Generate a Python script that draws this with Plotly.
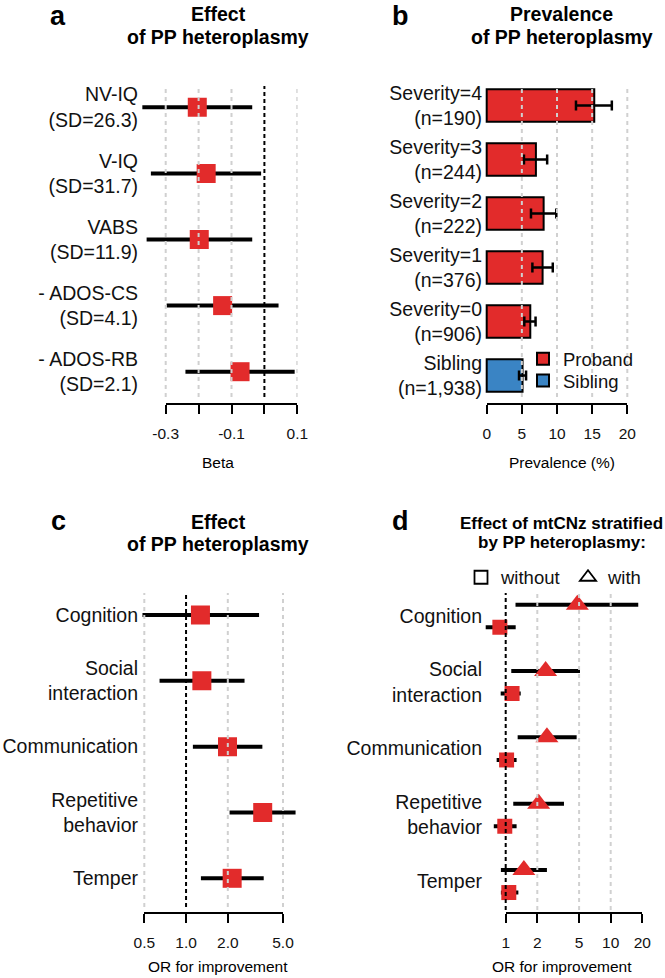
import math
import plotly.graph_objects as go

W, H = 665, 978

# ---------------- data ----------------
a_labels = ["NV-IQ<br>(SD=26.3)", "V-IQ<br>(SD=31.7)", "VABS<br>(SD=11.9)",
            "- ADOS-CS<br>(SD=4.1)", "- ADOS-RB<br>(SD=2.1)"]
a_beta = [-0.204, -0.177, -0.198, -0.127, -0.074]
a_lo = [-0.371, -0.345, -0.358, -0.297, -0.240]
a_hi = [-0.037, -0.010, -0.037, 0.043, 0.092]
a_ticks = [-0.3, -0.2, -0.1, 0.0, 0.1]
a_ticktext = ["-0.3", "", "-0.1", "", "0.1"]

b_labels = ["Severity=4<br>(n=190)", "Severity=3<br>(n=244)", "Severity=2<br>(n=222)",
            "Severity=1<br>(n=376)", "Severity=0<br>(n=906)", "Sibling<br>(n=1,938)"]
b_prev = [15.3, 7.0, 8.1, 7.95, 6.2, 5.1]
b_lo = [12.7, 5.3, 6.3, 6.5, 5.35, 4.6]
b_hi = [17.8, 8.6, 9.9, 9.4, 6.95, 5.6]
b_ticks = [0, 5, 10, 15, 20]

c_labels = ["Cognition", "Social<br>interaction", "Communication",
            "Repetitive<br>behavior", "Temper"]
c_or = [1.27, 1.30, 1.99, 3.57, 2.15]
c_lo = [0.485, 0.644, 1.12, 2.06, 1.28]
c_hi = [3.36, 2.64, 3.55, 6.16, 3.63]
c_ticks = [0.5, 1.0, 2.0, 5.0]
c_ticktext = ["0.5", "1.0", "2.0", "5.0"]

d_labels = c_labels
d_with = [4.81, 2.40, 2.47, 2.06, 1.49]
d_with_lo = [1.24, 1.13, 1.30, 1.18, 0.90]
d_with_hi = [18.3, 5.10, 4.74, 3.59, 2.47]
d_wo = [0.88, 1.15, 1.02, 0.98, 1.07]
d_wo_lo = [0.645, 0.896, 0.82, 0.77, 0.90]
d_wo_hi = [1.245, 1.39, 1.27, 1.27, 1.32]
d_ticks = [1, 2, 5, 10, 20]
d_ticktext = ["1", "2", "5", "10", "20"]

# ---------------- style ----------------
RED = "#E22B2B"
BLUE = "#3A84C4"
GRID = "#D0D0D0"
TXT = "#111111"
FONT = "Liberation Sans, Arial, Helvetica, sans-serif"
L = math.log10


def xd(p0, p1):
    return [p0 / W, p1 / W]


def yd(top, bot):
    return [1 - bot / H, 1 - top / H]


def calib(pa, va, pb, vb, p0, p1):
    s = (pb - pa) / (vb - va)
    return [va + (p0 - pa) / s, va + (p1 - pa) / s]


def py(p):
    return 1 - p / H


rows5 = [5, 4, 3, 2, 1]
rows6 = [6, 5, 4, 3, 2, 1]

fig = go.Figure()


def err(est, lo, hi):
    return dict(type="data", symmetric=False,
                array=[h - e for e, h in zip(est, hi)],
                arrayminus=[e - l for e, l in zip(est, lo)],
                width=0, thickness=4, color="black")


# panel a
fig.add_trace(go.Scatter(x=a_beta, y=rows5, xaxis="x", yaxis="y", mode="markers",
                         marker=dict(symbol="square", size=19, color=RED),
                         error_x=err(a_beta, a_lo, a_hi), showlegend=False, hoverinfo="skip"))
# panel b
eb = dict(type="data", symmetric=False, color="black", thickness=2.5, width=5,
          array=[h - e for e, h in zip(b_prev, b_hi)],
          arrayminus=[e - l for e, l in zip(b_prev, b_lo)])
fig.add_trace(go.Bar(x=b_prev[:5], y=rows6[:5], orientation="h", width=0.6, name="Proband",
                     marker=dict(color=RED, line=dict(color="black", width=2)),
                     error_x=dict(eb, array=eb["array"][:5], arrayminus=eb["arrayminus"][:5]),
                     xaxis="x2", yaxis="y2", legend="legend", hoverinfo="skip"))
fig.add_trace(go.Bar(x=b_prev[5:], y=rows6[5:], orientation="h", width=0.6, name="Sibling",
                     marker=dict(color=BLUE, line=dict(color="black", width=2)),
                     error_x=dict(eb, array=eb["array"][5:], arrayminus=eb["arrayminus"][5:]),
                     xaxis="x2", yaxis="y2", legend="legend3", hoverinfo="skip"))
# panel c
fig.add_trace(go.Scatter(x=c_or, y=rows5, xaxis="x3", yaxis="y3", mode="markers",
                         marker=dict(symbol="square", size=19, color=RED),
                         error_x=err(c_or, c_lo, c_hi), showlegend=False, hoverinfo="skip"))
# panel d
OFF = 0.17
fig.add_trace(go.Scatter(x=d_with, y=[r + OFF for r in rows5], xaxis="x4", yaxis="y4",
                         mode="markers", marker=dict(symbol="triangle-up", size=20, color=RED),
                         error_x=err(d_with, d_with_lo, d_with_hi), showlegend=False,
                         hoverinfo="skip"))
fig.add_trace(go.Scatter(x=d_wo, y=[r - OFF for r in rows5], xaxis="x4", yaxis="y4",
                         mode="markers", marker=dict(symbol="square", size=15, color=RED),
                         error_x=err(d_wo, d_wo_lo, d_wo_hi), showlegend=False,
                         hoverinfo="skip"))
# legend entries for panel d (open symbols)
fig.add_trace(go.Scatter(x=[None], y=[None], xaxis="x4", yaxis="y4", mode="markers", name="without",
                         marker=dict(symbol="square-open", size=13, color="black",
                                     line=dict(width=1.8, color="black")),
                         legend="legend2"))
fig.add_trace(go.Scatter(x=[None], y=[None], xaxis="x4", yaxis="y4", mode="markers", name="with",
                         marker=dict(symbol="triangle-up-open", size=14, color="black",
                                     line=dict(width=1.8, color="black")),
                         legend="legend4"))

# invisible traces hosting the R-style display axes
for xa, ya, tv in [("x5", "y", a_ticks), ("x6", "y2", b_ticks), ("x7", "y3", c_ticks),
                   ("x8", "y4", d_ticks)]:
    fig.add_trace(go.Scatter(x=[tv[0], tv[-1]], y=[3, 3], xaxis=xa, yaxis=ya, mode="markers",
                             marker=dict(opacity=0), showlegend=False, hoverinfo="skip"))

# ---------------- axes ----------------
hidden_x = dict(visible=False, fixedrange=True, automargin=False)


def yax(dom_top, dom_bot, pa, va, pb, vb, anchor, tv, tt):
    return dict(domain=yd(dom_top, dom_bot), range=calib(pa, va, pb, vb, dom_bot, dom_top),
                anchor=anchor, tickvals=tv, ticktext=tt, showgrid=False, zeroline=False,
                showline=False, ticks="", tickfont=dict(size=19.5, color=TXT, family=FONT),
                fixedrange=True, automargin=False)


def disp(p0, p1, rng, pos, tv, tt, typ="linear"):
    return dict(domain=xd(p0, p1), range=rng, type=typ, anchor="free", position=py(pos),
                showline=True, linecolor="black", linewidth=2, ticks="outside", ticklen=9,
                tickwidth=2, tickcolor="black", tickvals=tv, ticktext=tt,
                tickfont=dict(size=15.5, color=TXT, family=FONT), showgrid=False,
                zeroline=False, ticklabelstandoff=6, fixedrange=True, automargin=False)


def leg(x, y, orient="v"):
    return dict(x=x / W, y=py(y), xanchor="left", yanchor="middle", orientation=orient,
                font=dict(size=18.5, color=TXT, family=FONT), bgcolor="rgba(0,0,0,0)",
                itemwidth=30, tracegroupgap=0)


layout = dict(
    width=W, height=H, margin=dict(l=0, r=0, t=0, b=0, pad=0, autoexpand=False), autosize=False,
    paper_bgcolor="white", plot_bgcolor="rgba(0,0,0,0)",
    font=dict(family=FONT, color=TXT),
    xaxis=dict(hidden_x, domain=xd(139, 297.6), range=calib(165.7, -0.3, 297.3, 0.1, 139, 297.6),
               anchor="y"),
    xaxis2=dict(hidden_x, domain=xd(483, 640.4), range=calib(486.7, 0, 627.3, 20, 483, 640.4),
                anchor="y2"),
    xaxis3=dict(hidden_x, type="log", domain=xd(139, 297.6),
                range=calib(144.3, L(0.5), 283, L(5), 139, 297.6), anchor="y3"),
    xaxis4=dict(hidden_x, type="log", domain=xd(483, 640.4),
                range=calib(505.7, 0, 642.3, L(20), 483, 640.4), anchor="y4"),
    yaxis=yax(86, 397, 107.3, 5, 371.7, 1, "x", rows5, a_labels),
    yaxis2=yax(86, 397, 105.5, 6, 375.5, 1, "x2", rows6, b_labels),
    yaxis3=yax(593, 907, 615, 5, 878.3, 1, "x3", rows5, c_labels),
    yaxis4=yax(593, 910, 616, 5, 881.3, 1, "x4", rows5, d_labels),
    xaxis5=disp(165.7, 297.3, [-0.3, 0.1], 404, a_ticks, a_ticktext),
    xaxis6=disp(486.7, 627.3, [0, 20], 404, b_ticks, [str(t) for t in b_ticks]),
    xaxis7=disp(144.3, 283, [L(0.5), L(5)], 913, c_ticks, c_ticktext, "log"),
    xaxis8=disp(505.7, 642.3, [0, L(20)], 913, d_ticks, d_ticktext, "log"),
    legend=leg(523, 359.3),
    legend3=leg(523, 381),
    legend2=leg(461, 577.7),
    legend4=leg(568, 577.7),
)

# ---------------- gridlines (drawn above the marks, as in the original) ----------------
shapes = []


def vline(xref, yref, x, color, dash, width):
    return dict(type="line", xref=xref, yref=yref + " domain", x0=x, x1=x, y0=0, y1=1,
                line=dict(color=color, width=width, dash=dash), layer="above")


for x in [-0.3, -0.2, -0.1, 0.1]:
    shapes.append(vline("x", "y", x, GRID, "4px,4px", 2))
shapes.append(vline("x", "y", 0.0, "black", "4px,3px", 2))
for x in [5, 10, 15, 20]:
    shapes.append(vline("x2", "y2", x, GRID, "4px,4px", 2))
for x in [0.5, 2, 5]:
    shapes.append(vline("x3", "y3", x, GRID, "4px,4px", 2))
shapes.append(vline("x3", "y3", 1, "black", "4px,3px", 2))
for x in [2, 5, 10]:
    shapes.append(vline("x4", "y4", x, GRID, "4px,4px", 2))
shapes.append(vline("x4", "y4", 1, "black", "4px,3px", 2))
layout["shapes"] = shapes

# ---------------- text ----------------
ann = []


def txt(text, x, y, size, xref="paper", bold=False, anchor="center"):
    ann.append(dict(text=f"<b>{text}</b>" if bold else text, x=x, y=y, xref=xref, yref="paper",
                    xanchor=anchor, yanchor="middle", showarrow=False,
                    font=dict(size=size, color="black", family=FONT)))


# panel letters
txt("a", 58 / W, py(15.8), 27, bold=True)
txt("b", 400.7 / W, py(15.8), 27, bold=True)
txt("c", 58.3 / W, py(520.5), 27, bold=True)
txt("d", 400.7 / W, py(520.5), 27, bold=True)
# panel titles
txt("Effect", 0.5, py(13.9), 19.5, "x domain", True)
txt("of PP heteroplasmy", 0.5, py(37.2), 19.5, "x domain", True)
txt("Prevalence", 0.5, py(13.9), 19.5, "x2 domain", True)
txt("of PP heteroplasmy", 0.5, py(37.2), 19.5, "x2 domain", True)
txt("Effect", 0.5, py(521.5), 19.5, "x3 domain", True)
txt("of PP heteroplasmy", 0.5, py(544.2), 19.5, "x3 domain", True)
txt("Effect of mtCNz stratified", 0.5, py(523.3), 17, "x4 domain", True)
txt("by PP heteroplasmy:", 0.5, py(542.3), 17, "x4 domain", True)
# axis titles
txt("Beta", 0.5, py(462.5), 15.5, "x domain")
txt("Prevalence (%)", 0.5, py(462.5), 15.5, "x2 domain")
txt("OR for improvement", 0.5, py(966), 15.5, "x3 domain")
txt("OR for improvement", 0.5, py(966), 15.5, "x4 domain")
layout["annotations"] = ann

fig.update_layout(**layout)
# the page's default 8px body margin would shift the 665x978 figure out of the window
fig.write_html("out.html", config={"displayModeBar": False, "staticPlot": True},
               post_script="document.body.style.margin='0';")
